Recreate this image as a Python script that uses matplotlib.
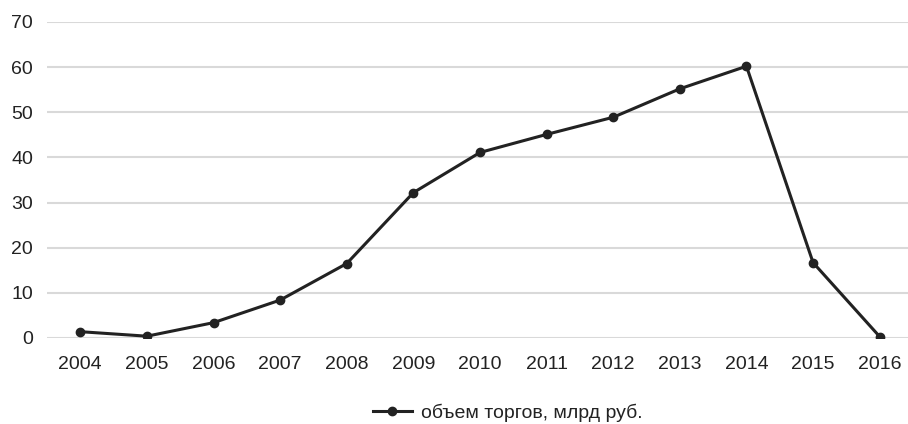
import matplotlib
matplotlib.use("Agg")
import matplotlib.pyplot as plt

years = ["2004", "2005", "2006", "2007", "2008", "2009", "2010",
         "2011", "2012", "2013", "2014", "2015", "2016"]
volume = [1.4, 0.4, 3.4, 8.4, 16.5, 32.2, 41.1, 45.1, 48.9, 55.2, 60.2, 16.7, 0.3]
label = "объем торгов, млрд руб."

plt.rcParams['font.family'] = ['Liberation Sans', 'DejaVu Sans']

fig = plt.figure(figsize=(9.08, 4.24), dpi=100)
ax = fig.add_axes([47 / 908, 86 / 424, 866 / 908, 316 / 424])

x = range(len(years))
ax.plot(x, volume, color="#222222", linewidth=2.2, marker="o", markersize=6,
        label=label, zorder=3)

ax.set_xlim(-0.5, len(years) - 0.5)
ax.set_ylim(0, 70)
ax.set_yticks(range(0, 71, 10))
ax.set_xticks(list(x))
ax.set_xticklabels(years)
ax.tick_params(axis="both", length=0, labelsize=14, colors="#222222")
ax.tick_params(axis="y", pad=10)
ax.tick_params(axis="x", pad=13)
ax.grid(axis="y", color="#d9d9d9", linewidth=1.5)
ax.set_axisbelow(True)
for s in ax.spines.values():
    s.set_visible(False)

fig.legend(loc="center", bbox_to_anchor=(508 / 908, 1 - 413 / 424), frameon=False,
           fontsize=14, handlelength=2.0, handletextpad=0.5, labelcolor="#222222")

fig.savefig("out.png", dpi=100)
